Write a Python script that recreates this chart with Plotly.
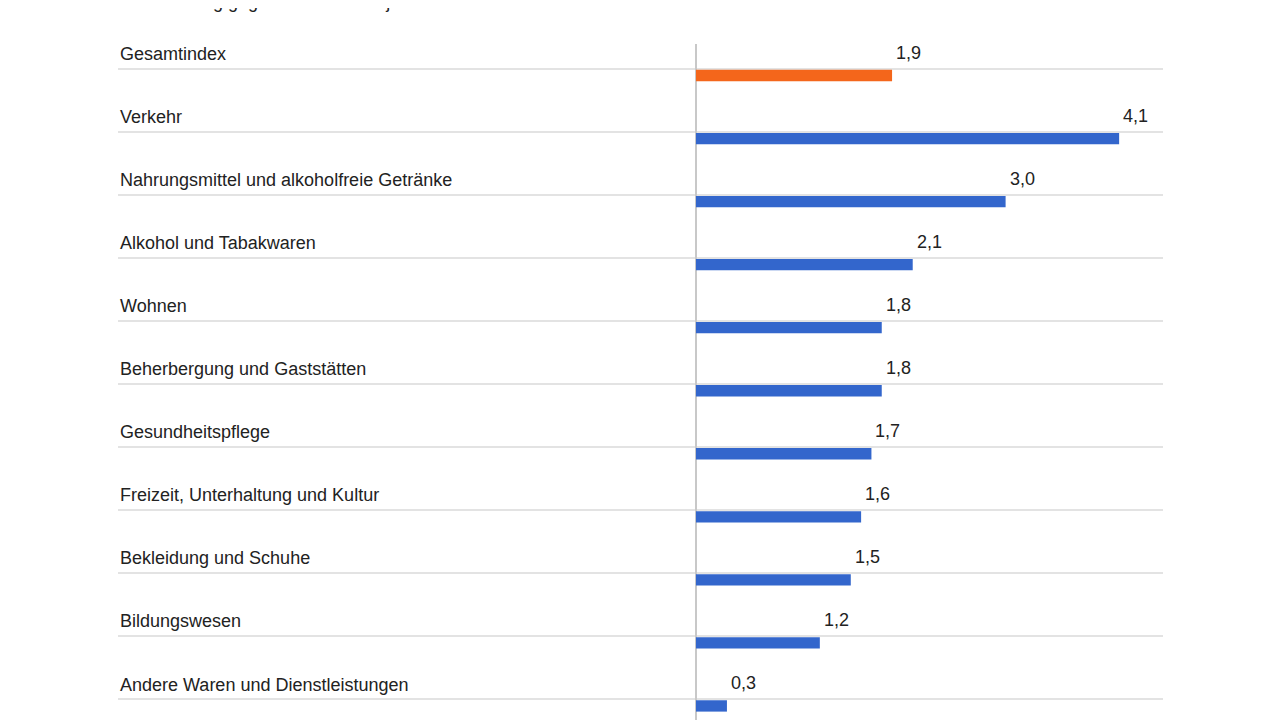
import plotly.graph_objects as go

categories = ["Gesamtindex", "Verkehr", "Nahrungsmittel und alkoholfreie Getränke",
              "Alkohol und Tabakwaren", "Wohnen", "Beherbergung und Gaststätten",
              "Gesundheitspflege", "Freizeit, Unterhaltung und Kultur",
              "Bekleidung und Schuhe", "Bildungswesen", "Andere Waren und Dienstleistungen"]
values = [1.9, 4.1, 3.0, 2.1, 1.8, 1.8, 1.7, 1.6, 1.5, 1.2, 0.3]
value_labels = ["1,9", "4,1", "3,0", "2,1", "1,8", "1,8", "1,7", "1,6", "1,5", "1,2", "0,3"]
title = "Veränderung gegenüber dem Vorjahresmonat in %"

idx = list(range(len(categories)))
colors = ["#f4661b"] + ["#3366cc"] * (len(categories) - 1)
font = "Liberation Sans, Arial, sans-serif"

fig = go.Figure(go.Bar(x=values, y=idx, orientation="h", width=0.18,
                       marker=dict(color=colors, line=dict(width=0)),
                       hoverinfo="skip"))

for i, (c, v, lab) in enumerate(zip(categories, values, value_labels)):
    fig.add_annotation(x=-5.6, y=i - 0.34, text=c, showarrow=False, xanchor="left",
                       yanchor="middle", font=dict(family=font, size=18, color="#222"))
    fig.add_annotation(x=v, y=i - 0.36, text=lab, showarrow=False, xanchor="left",
                       xshift=2, yanchor="middle", font=dict(family=font, size=18, color="#222"))

fig.add_annotation(x=0, xref="paper", y=1.062, yref="paper", text=title, showarrow=False,
                   xanchor="left", yanchor="middle", font=dict(family=font, size=18, color="#222"))

fig.update_layout(
    width=1280, height=720, plot_bgcolor="white", paper_bgcolor="white",
    margin=dict(l=110, r=125, t=36, b=0, autoexpand=False), showlegend=False,
    xaxis=dict(range=[-5.6, 4.525], showgrid=False, showticklabels=False, ticks="",
               zeroline=True, zerolinecolor="#c8c8c8", zerolinewidth=2),
    yaxis=dict(range=[10.35, -0.5], tickvals=[i - 0.11 for i in idx], showticklabels=False,
               ticks="", showgrid=True, gridcolor="#e3e3e3", gridwidth=2, zeroline=False),
)
fig.write_html("out.html")
